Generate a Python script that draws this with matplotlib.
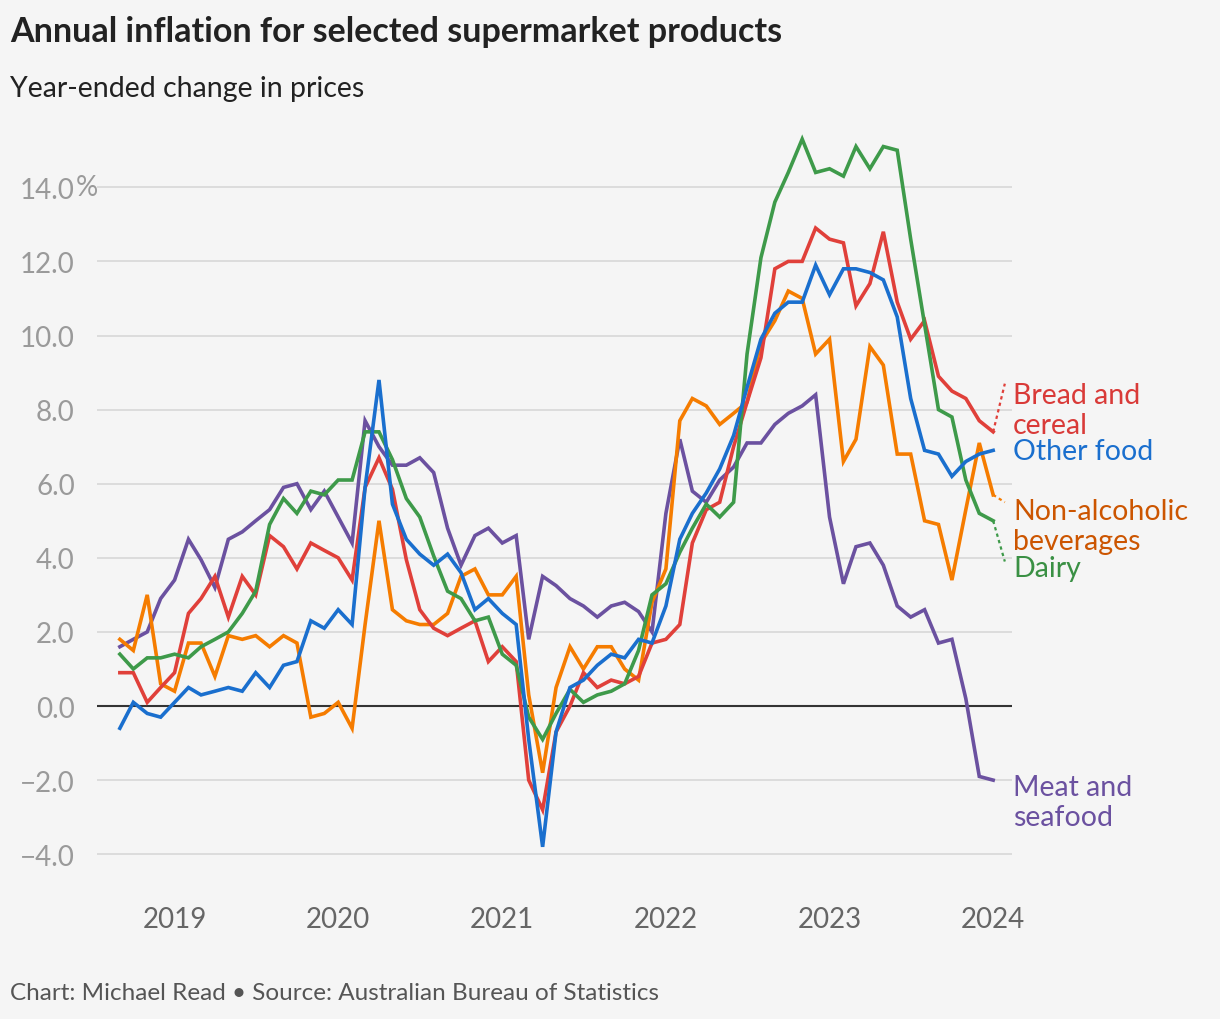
import numpy as np
import pandas as pd
import matplotlib
matplotlib.use("Agg")
from matplotlib import pyplot as plt
import matplotlib.dates as mdates

plt.rcParams['font.family'] = ['Lato', 'DejaVu Sans']

# monthly CPI indicator, year-ended change (%), Sep 2018 - Jan 2024
months = pd.date_range("2018-09-01", "2024-01-01", freq="MS")

bread_cereal = [0.9, 0.9, 0.1, 0.5, 0.9, 2.5, 2.9, 3.5, 2.4, 3.5, 3.0, 4.6, 4.3, 3.7, 4.4, 4.2,
                4.0, 3.4, 5.9, 6.7, 5.85, 3.95, 2.6, 2.1, 1.9, 2.1, 2.3, 1.2, 1.6, 1.2, -2.0, -2.8,
                -0.7, 0.0, 0.9, 0.5, 0.7, 0.6, 0.8, 1.7, 1.8, 2.2, 4.4, 5.3, 5.5, 7.0, 8.2, 9.4,
                11.8, 12.0, 12.0, 12.9, 12.6, 12.5, 10.8, 11.4, 12.8, 10.9, 9.9, 10.4, 8.9, 8.5, 8.3,
                7.7, 7.4]
other_food = [-0.6, 0.1, -0.2, -0.3, 0.1, 0.5, 0.3, 0.4, 0.5, 0.4, 0.9, 0.5, 1.1, 1.2, 2.3, 2.1,
              2.6, 2.2, 5.9, 8.8, 5.45, 4.5, 4.1, 3.8, 4.1, 3.6, 2.6, 2.9, 2.5, 2.2, -0.9, -3.8,
              -0.7, 0.5, 0.7, 1.1, 1.4, 1.3, 1.8, 1.7, 2.7, 4.5, 5.2, 5.75, 6.4, 7.3, 8.6, 9.9,
              10.6, 10.9, 10.9, 11.9, 11.1, 11.8, 11.8, 11.7, 11.5, 10.5, 8.3, 6.9, 6.8, 6.2, 6.6,
              6.8, 6.9]
non_alcoholic = [1.8, 1.5, 3.0, 0.6, 0.4, 1.7, 1.7, 0.8, 1.9, 1.8, 1.9, 1.6, 1.9, 1.7, -0.3, -0.2,
                 0.1, -0.6, 2.2, 5.0, 2.6, 2.3, 2.2, 2.2, 2.5, 3.5, 3.7, 3.0, 3.0, 3.5, 0.3, -1.8,
                 0.5, 1.6, 1.0, 1.6, 1.6, 1.0, 0.7, 2.8, 3.7, 7.7, 8.3, 8.1, 7.6, 7.9, 8.2, 9.8,
                 10.4, 11.2, 11.0, 9.5, 9.9, 6.6, 7.2, 9.7, 9.2, 6.8, 6.8, 5.0, 4.9, 3.4, 5.3,
                 7.1, 5.7]
dairy = [1.4, 1.0, 1.3, 1.3, 1.4, 1.3, 1.6, 1.8, 2.0, 2.5, 3.1, 4.9, 5.6, 5.2, 5.8, 5.7,
         6.1, 6.1, 7.4, 7.4, 6.65, 5.6, 5.1, 4.05, 3.1, 2.9, 2.3, 2.4, 1.4, 1.1, -0.3, -0.9,
         -0.2, 0.45, 0.1, 0.3, 0.4, 0.6, 1.5, 3.0, 3.3, 4.15, 4.8, 5.45, 5.1, 5.5, 9.5, 12.1,
         13.6, 14.4, 15.3, 14.4, 14.5, 14.3, 15.1, 14.5, 15.1, 15.0, 12.6, 10.3, 8.0, 7.8, 6.1,
         5.2, 5.0]
meat_seafood = [1.6, 1.8, 2.0, 2.9, 3.4, 4.5, 3.95, 3.2, 4.5, 4.7, 5.0, 5.3, 5.9, 6.0, 5.3, 5.8,
                5.1, 4.4, 7.7, 7.0, 6.5, 6.5, 6.7, 6.3, 4.8, 3.8, 4.6, 4.8, 4.4, 4.6, 1.8, 3.5,
                3.25, 2.9, 2.7, 2.4, 2.7, 2.8, 2.55, 2.0, 5.2, 7.2, 5.8, 5.5, 6.1, 6.45, 7.1, 7.1,
                7.6, 7.9, 8.1, 8.4, 5.1, 3.3, 4.3, 4.4, 3.8, 2.7, 2.4, 2.6, 1.7, 1.8, 0.2,
                -1.9, -2.0]

series_names = ["Meat and\nseafood", "Non-alcoholic\nbeverages", "Bread and\ncereal",
                "Dairy", "Other food"]
year_labels = ["2019", "2020", "2021", "2022", "2023", "2024"]
y_ticks = [-4, -2, 0, 2, 4, 6, 8, 10, 12, 14]

bg = "#f5f5f5"
line_cols = {"Meat and\nseafood": "#6b51a0", "Non-alcoholic\nbeverages": "#f57c00",
             "Bread and\ncereal": "#e0403a", "Dairy": "#3e9a4a", "Other food": "#1a6fce"}
text_cols = {"Meat and\nseafood": "#6b51a0", "Non-alcoholic\nbeverages": "#cc5500",
             "Bread and\ncereal": "#d93a38", "Dairy": "#3a9044", "Other food": "#1a6fce"}
values = {"Meat and\nseafood": meat_seafood, "Non-alcoholic\nbeverages": non_alcoholic,
          "Bread and\ncereal": bread_cereal, "Dairy": dairy, "Other food": other_food}
# label block centre (data units)
label_pos = {"Meat and\nseafood": -2.6, "Non-alcoholic\nbeverages": 4.85,
             "Bread and\ncereal": 8.0, "Dairy": 3.72, "Other food": 6.88}

fig = plt.figure(figsize=(12.2, 10.2), dpi=100)
fig.patch.set_facecolor(bg)
W, H = 1220, 1020
ax = fig.add_axes([97 / W, 1 - 888.6 / H, (1012 - 97) / W, (888.6 - 129) / H])
ax.set_facecolor(bg)

x0 = months[0] - pd.Timedelta(days=51)
x1 = months[-1] + pd.Timedelta(days=42)
ax.set_xlim(x0, x1)
ax.set_ylim(-4.9, 15.6)

for y in y_ticks:
    if y == 0:
        continue
    ax.axhline(y, color="#dcdcdc", lw=1.4, zorder=1)
ax.axhline(0, color="#333333", lw=1.5, zorder=2)

for name in series_names:
    ax.plot(months, values[name], color=line_cols[name], lw=2.6, zorder=3,
            solid_joinstyle="miter")

# labels at the right end
lab_x = months[-1] + pd.Timedelta(days=44)
for name in series_names:
    ax.text(lab_x, label_pos[name], name, color=text_cols[name], fontsize=20.5,
            va="center", ha="left", linespacing=1.2, clip_on=False)

# dotted leaders from last point to label
lead_end = {"Bread and\ncereal": 8.7, "Non-alcoholic\nbeverages": 5.5, "Dairy": 3.9}
for name, yend in lead_end.items():
    ax.plot([months[-1], months[-1] + pd.Timedelta(days=26)], [values[name][-1], yend],
            color=line_cols[name], lw=1.6, ls=(0, (1.5, 1.5)), zorder=3, clip_on=False)

for s in ax.spines.values():
    s.set_visible(False)

ax.set_yticks(y_ticks)
ax.set_yticklabels([f"{v:.1f}".replace("-", "\u2212") for v in y_ticks])
ax.tick_params(axis="y", length=0, pad=16, labelsize=20, labelcolor="#9a9a9a")
ax.text(76 / W, 1 - 188 / H, "%", transform=fig.transFigure, fontsize=20,
        color="#9a9a9a", ha="left", va="center")

ax.set_xticks([pd.Timestamp(f"{y}-01-01") for y in year_labels])
ax.set_xticklabels(year_labels)
ax.tick_params(axis="x", length=0, pad=13, labelsize=20, labelcolor="#666666")

fig.text(10 / W, 1 - 32 / H, "Annual inflation for selected supermarket products",
         fontsize=24.5, fontweight="bold", color="#222222", ha="left", va="center")
fig.text(10 / W, 1 - 89 / H, "Year-ended change in prices", fontsize=20.5,
         color="#222222", ha="left", va="center")
fig.text(10 / W, 1 - 994 / H, "Chart: Michael Read \u2022 Source: Australian Bureau of Statistics",
         fontsize=17.5, color="#555555", ha="left", va="center")

fig.savefig("out.png", dpi=100, facecolor=bg)
